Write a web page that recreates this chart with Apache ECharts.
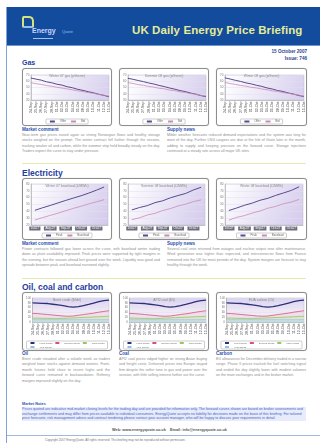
<!DOCTYPE html>
<html>
<head>
<meta charset="utf-8">
<script src="https://cdn.jsdelivr.net/npm/echarts@6/dist/echarts.min.js"></script>
<style>
  html, body { margin: 0; padding: 0; background: #fff; }
  body { width: 320px; height: 443px; position: relative; overflow: hidden; font-family: "Liberation Sans", Arial, sans-serif; }
  .abs { position: absolute; }
  .edge { left: 6px; top: 7px; width: 1px; height: 436px; background: #7fa3d9; }
  .band { left: 7px; top: 7px; width: 313px; height: 38px; background: #134b9d; border-bottom: 1px solid #6f95d0; }
  .title { left: 132px; top: 24px; font-size: 11.5px; font-weight: bold; color: #e4ec98; white-space: nowrap; letter-spacing: 0.1px; }
  .logo-icon { left: 22px; top: 16px; width: 8px; height: 8px; border: 2px solid #d7e27a; border-bottom-color: #8fc0e8; border-radius: 2px 5px 2px 2px; }
  .logo-e { left: 32px; top: 27px; font-size: 7px; color: #c9d4ff; font-weight: bold; }
  .logo-q { left: 62px; top: 28.5px; font-size: 4px; color: #9ec0ee; }
  .logo-ul { left: 33px; top: 38px; width: 20px; height: 1px; background: #9ec0ee; }
  .dateline { right: 13px; font-size: 4.6px; font-weight: bold; color: #1f3f8f; text-align: right; white-space: nowrap; }
  .h1 { font-weight: bold; color: #1e3ea0; white-space: nowrap; }
  .h2 { font-size: 4.6px; font-weight: bold; color: #2c50b0; white-space: nowrap; }
  .para { font-size: 3.6px; line-height: 5.4px; color: #8e8e8e; text-align: justify; }
  .panel { border: 1px solid #8d8d8d; border-radius: 3px; background: #fff; box-shadow: 0 0 1px #bbb; }
  .rule { height: 1px; background: #e6ebb4; }
  .foot { font-size: 3.6px; line-height: 4.6px; color: #3f5fc8; background: #e8ecfa; }
  .links { font-size: 3.8px; color: #555; font-weight: bold; white-space: nowrap; }
  .legal { font-size: 3px; color: #777; white-space: nowrap; }
</style>
</head>
<body>

<div class="abs edge"></div>
<div class="abs band"></div>
<div class="abs logo-icon"></div>
<div class="abs logo-e">Energy</div>
<div class="abs logo-q">Quote</div>
<div class="abs logo-ul"></div>
<div class="abs title">UK Daily Energy Price Briefing</div>

<div class="abs dateline" style="top:49px">15 October 2007</div>
<div class="abs dateline" style="top:55.5px">Issue: 746</div>

<div class="abs h1" style="left:22px;top:59px;font-size:7px">Gas</div>
<div class="abs panel" style="left:22px;top:68px;width:88px;height:56px"><div id="gas1" style="width:88px;height:56px"></div></div>
<div class="abs panel" style="left:119px;top:68px;width:88px;height:56px"><div id="gas2" style="width:88px;height:56px"></div></div>
<div class="abs panel" style="left:216px;top:68px;width:89px;height:56px"><div id="gas3" style="width:89px;height:56px"></div></div>

<div class="abs h2" style="left:22px;top:127px">Market comment</div>
<div class="abs para" style="left:22px;top:133px;width:138px">Near-term gas prices eased again as strong Norwegian flows and healthy storage stocks weighed on the prompt. The winter contract fell further through the session, tracking weaker oil and carbon, while the summer strip held broadly steady on the day. Traders expect the curve to stay under pressure.</div>
<div class="abs h2" style="left:167px;top:127px">Supply news</div>
<div class="abs para" style="left:167px;top:133px;width:139px">Milder weather forecasts reduced demand expectations and the system was long for most of the day. Further LNG cargoes are due at the Isle of Grain later in the month, adding to supply and keeping pressure on the forward curve. Storage injections continued at a steady rate across all major UK sites.</div>

<div class="abs rule" style="left:22px;top:163px;width:284px"></div>

<div class="abs h1" style="left:22px;top:168px;font-size:8.5px">Electricity</div>
<div class="abs panel" style="left:22px;top:178px;width:88px;height:60px"><div id="elec1" style="width:88px;height:60px"></div></div>
<div class="abs panel" style="left:119px;top:178px;width:88px;height:60px"><div id="elec2" style="width:88px;height:60px"></div></div>
<div class="abs panel" style="left:216px;top:178px;width:89px;height:60px"><div id="elec3" style="width:89px;height:60px"></div></div>

<div class="abs h2" style="left:22px;top:241px">Market comment</div>
<div class="abs para" style="left:22px;top:247px;width:138px">Power contracts followed gas lower across the curve, with baseload winter trading down as plant availability improved. Peak prices were supported by tight margins in the evening, but the season ahead lost ground over the week. Liquidity was good and spreads between peak and baseload narrowed slightly.</div>
<div class="abs h2" style="left:167px;top:241px">Supply news</div>
<div class="abs para" style="left:167px;top:247px;width:139px">Several coal units returned from outages and nuclear output rose after maintenance. Wind generation was higher than expected, and interconnector flows from France remained into the UK for most periods of the day. System margins are forecast to stay healthy through the week.</div>

<div class="abs rule" style="left:22px;top:278px;width:284px"></div>

<div class="abs h1" style="left:22px;top:282px;font-size:8.5px">Oil, coal and carbon</div>
<div class="abs panel" style="left:22px;top:292px;width:88px;height:57px"><div id="oil1" style="width:88px;height:57px"></div></div>
<div class="abs panel" style="left:119px;top:292px;width:88px;height:57px"><div id="oil2" style="width:88px;height:57px"></div></div>
<div class="abs panel" style="left:216px;top:292px;width:89px;height:57px"><div id="oil3" style="width:89px;height:57px"></div></div>

<div class="abs h2" style="left:22px;top:351px">Oil</div>
<div class="abs para" style="left:22px;top:357px;width:88px">Brent crude steadied after a volatile week as traders weighed lower stocks against demand worries. Front-month futures held close to recent highs and the forward curve remained in backwardation. Refinery margins improved slightly on the day.</div>
<div class="abs h2" style="left:119px;top:351px">Coal</div>
<div class="abs para" style="left:119px;top:357px;width:88px">API2 coal prices edged higher on strong Asian buying and freight costs. Delivered prices into Europe stayed firm despite the softer tone in gas and power over the session, with little selling interest further out the curve.</div>
<div class="abs h2" style="left:216px;top:351px">Carbon</div>
<div class="abs para" style="left:216px;top:357px;width:90px">EU allowances for December delivery traded in a narrow range. Phase II prices tracked the fuel switching signal and ended the day slightly lower with modest volumes on the main exchanges and in the broker market.</div>

<div class="abs h2" style="left:22px;top:402px;font-size:3.8px;color:#2c50b0">Market Notes</div>
<div class="abs foot" style="left:22px;top:407px;width:284px">Prices quoted are indicative mid-market closing levels for the trading day and are provided for information only. The forward curves shown are based on broker assessments and exchange settlements and may differ from prices available to individual consumers. EnergyQuote accepts no liability for decisions made on the basis of this briefing. For tailored price forecasts, risk management advice and contract tendering please contact your account manager, who will be happy to discuss your requirements in detail.</div>
<div class="abs links" style="left:112px;top:428px">Web: www.energyquote.co.uk &nbsp;&nbsp; Email: info@energyquote.co.uk</div>
<div class="abs" style="left:7px;top:435px;width:313px;height:1px;background:#9fb8e0"></div>
<div class="abs legal" style="left:45px;top:438px">Copyright 2007 EnergyQuote. All rights reserved. This briefing may not be reproduced without permission.</div>

<script>
// ---- Gas: contract price history (p/therm) ----
const gasDates = ['24-Sep','25-Sep','26-Sep','27-Sep','28-Sep','01-Oct','02-Oct','03-Oct','04-Oct','05-Oct','08-Oct','09-Oct','10-Oct','11-Oct','12-Oct','15-Oct'];
const gasTitles = ['Winter 07 gas (p/therm)', 'Summer 08 gas (p/therm)', 'Winter 08 gas (p/therm)'];
const gasOfferA = [65.2, 63.4, 61.8, 59.1, 57.6, 55.3, 53.8, 51.2, 49.6, 47.1, 45.4, 43.3, 41.6, 39.2, 37.5, 35.1];
const gasBidA   = [57.6, 56.1, 54.9, 53.2, 52.0, 50.4, 49.1, 47.7, 46.2, 44.8, 43.5, 41.9, 40.6, 39.2, 37.8, 36.2];
const gasOfferB = [64.8, 63.1, 61.2, 59.4, 57.2, 55.6, 53.3, 51.5, 49.2, 47.4, 45.1, 43.5, 41.2, 39.4, 37.1, 35.4];
const gasBidB   = [57.9, 56.4, 54.6, 53.5, 51.7, 50.6, 48.8, 47.9, 45.9, 45.0, 43.2, 42.1, 40.3, 39.4, 37.5, 36.4];
const gasOfferC = [65.5, 63.6, 61.5, 59.7, 57.4, 55.8, 53.5, 51.8, 49.3, 47.6, 45.2, 43.7, 41.3, 39.6, 37.2, 35.6];
const gasBidC   = [58.1, 56.3, 55.0, 53.3, 52.2, 50.3, 49.3, 47.6, 46.4, 44.7, 43.7, 41.8, 40.8, 39.1, 38.0, 36.3];
const gasSeriesNames = ['Offer', 'Bid'];

// ---- Electricity: baseload price history (£/MWh) ----
const elecDates = ['Jul-07','Aug-07','Aug-07 ','Sep-07','Sep-07 ','Sep-07  ','Oct-07','Oct-07 ','Oct-07  ','Oct-07   '];
const elecTicks = ['Jul-07','Aug-07','Sep-07','Oct-07','Oct-07'];
const elecTitles = ['Winter 07 baseload (£/MWh)', 'Summer 08 baseload (£/MWh)', 'Winter 08 baseload (£/MWh)'];
const elecPeakA = [41.5, 45.2, 48.6, 52.3, 55.9, 59.4, 62.8, 66.7, 70.9, 75.6];
const elecBaseA = [27.3, 30.8, 34.1, 37.2, 40.9, 44.3, 47.5, 50.8, 53.9, 57.1];
const elecPeakB = [42.1, 45.6, 48.3, 52.7, 55.4, 59.8, 63.1, 66.2, 71.3, 75.2];
const elecBaseB = [27.8, 30.5, 34.6, 37.0, 41.2, 44.0, 47.9, 50.5, 54.2, 56.8];
const elecPeakC = [41.2, 44.9, 48.9, 52.1, 56.2, 59.1, 63.3, 66.9, 70.6, 75.9];
const elecBaseC = [27.1, 31.2, 33.8, 37.5, 40.6, 44.6, 47.2, 51.1, 53.6, 57.4];
const elecSeriesNames = ['Peak', 'Baseload'];

// ---- Oil, coal and carbon (indexed) ----
const fuelDates = ['24-Sep','25-Sep','26-Sep','27-Sep','28-Sep','01-Oct','02-Oct','03-Oct','04-Oct','05-Oct','08-Oct','09-Oct','10-Oct','11-Oct','12-Oct','15-Oct'];
const fuelTitles = ['Brent crude ($/bbl)', 'API2 coal ($/t)', 'EUA carbon (€/t)'];
const fuelFront = [80, 79, 78, 77, 74, 71, 68, 64, 62, 64, 68, 73, 79, 85, 89, 91];
const fuelSecond = [36, 35, 33, 31, 29, 27, 25, 24, 25, 28, 31, 34, 37, 41, 44, 47];
const fuelThird = [16, 16, 15, 15, 14, 14, 15, 16, 17, 18, 19, 20, 21, 22, 23, 24];
const fuelBase = [10, 10, 10, 10, 10, 10, 10, 10, 10, 10, 10, 10, 10, 10, 10, 10];
const fuelSeriesNames = ['Front month', 'Second month', 'Third month', 'Year ahead'];

const FONT = 'Liberation Sans';

function lavender(topColor, bottomColor) {
  return new echarts.graphic.LinearGradient(0, 0, 1, 1, [
    { offset: 0, color: topColor },
    { offset: 1, color: bottomColor }
  ]);
}

function baseOption(title, grid, legendItems) {
  return {
    animation: false,
    textStyle: { fontFamily: FONT },
    title: {
      text: title, left: 'center', top: 0.5,
      textStyle: { fontSize: 3.4, color: '#8a8a8a', fontWeight: 'normal', fontFamily: FONT }
    },
    grid: Object.assign({ show: true, borderColor: '#b8b8c8', borderWidth: 0.5 }, grid),
    legend: {
      data: legendItems, bottom: 1, left: 'center',
      itemWidth: 5, itemHeight: 1.5, itemGap: 4,
      padding: [1, 3], borderColor: '#9a9a9a', borderWidth: 0.5, borderRadius: 1,
      textStyle: { fontSize: 2.8, color: '#666', fontFamily: FONT }
    }
  };
}

function valueAxis(min, max, interval) {
  return {
    type: 'value', min: min, max: max, interval: interval,
    axisLabel: { fontSize: 3, color: '#777', margin: 1.5, fontFamily: FONT },
    axisLine: { show: true, lineStyle: { color: '#999', width: 0.5 } },
    axisTick: { show: false },
    splitLine: { lineStyle: { color: '#e2dff0', width: 0.5 } }
  };
}

function gasChart(id, title, offer, bid) {
  const chart = echarts.init(document.getElementById(id), null, { renderer: 'canvas' });
  const opt = baseOption(title,
    { left: 6, right: 2, top: 6, bottom: 25, backgroundColor: lavender('#ffffff', '#d7cfee') },
    gasSeriesNames);
  opt.xAxis = {
    type: 'category', data: gasDates, boundaryGap: false,
    axisLabel: { rotate: 90, interval: 0, fontSize: 3.6, color: '#444', margin: 1.5, fontFamily: FONT },
    axisLine: { lineStyle: { color: '#999', width: 0.5 } },
    axisTick: { show: false }
  };
  opt.yAxis = valueAxis(30, 70, 10);
  opt.series = [
    { name: gasSeriesNames[0], type: 'line', data: offer, symbol: 'none', lineStyle: { color: '#5a4a8e', width: 1 }, itemStyle: { color: '#5a4a8e' } },
    { name: gasSeriesNames[1], type: 'line', data: bid, symbol: 'none', lineStyle: { color: '#c98bb8', width: 0.8 }, itemStyle: { color: '#c98bb8' } }
  ];
  chart.setOption(opt);
}

function elecChart(id, title, peak, base) {
  const chart = echarts.init(document.getElementById(id), null, { renderer: 'canvas' });
  const opt = baseOption(title,
    { left: 8, right: 3, top: 5, bottom: 14, backgroundColor: lavender('#ffffff', '#d3c9ec') },
    elecSeriesNames);
  opt.xAxis = {
    type: 'category', data: elecDates, boundaryGap: true,
    axisLabel: {
      interval: 1, fontSize: 3, color: '#fff', margin: 1.5, fontFamily: FONT,
      backgroundColor: '#6c6c7c', padding: [0.5, 1.5],
      formatter: function (v, i) { return elecTicks[Math.floor(i / 2)] || v.trim(); }
    },
    axisLine: { lineStyle: { color: '#999', width: 0.5 } },
    axisTick: { show: false }
  };
  opt.yAxis = valueAxis(20, 80, 10);
  opt.series = [
    { name: elecSeriesNames[0], type: 'line', data: peak, symbol: 'none', lineStyle: { color: '#5a4a8e', width: 1 }, itemStyle: { color: '#5a4a8e' } },
    { name: elecSeriesNames[1], type: 'line', data: base, symbol: 'none', lineStyle: { color: '#c98bb8', width: 0.8 }, itemStyle: { color: '#c98bb8' } }
  ];
  chart.setOption(opt);
}

function fuelChart(id, title) {
  const chart = echarts.init(document.getElementById(id), null, { renderer: 'canvas' });
  const opt = baseOption(title,
    { left: 6, right: 2, top: 5, bottom: 28,
      backgroundColor: new echarts.graphic.LinearGradient(0, 0, 0, 1, [
        { offset: 0, color: '#d9d2f0' }, { offset: 0.55, color: '#efe9f6' }, { offset: 1, color: '#f4f0f4' }
      ]) },
    fuelSeriesNames);
  opt.legend.itemWidth = 4;
  opt.legend.itemHeight = 2.5;
  opt.legend.itemGap = 2;
  opt.legend.textStyle.fontSize = 2.4;
  opt.xAxis = {
    type: 'category', data: fuelDates, boundaryGap: false,
    axisLabel: { rotate: 90, interval: 0, fontSize: 3.6, color: '#444', margin: 1.5, fontFamily: FONT },
    axisLine: { lineStyle: { color: '#999', width: 0.5 } },
    axisTick: { show: false }
  };
  opt.yAxis = valueAxis(0, 100, 20);
  opt.series = [
    { name: fuelSeriesNames[0], type: 'line', data: fuelFront, symbol: 'none', lineStyle: { color: '#2e2f78', width: 1.3 }, itemStyle: { color: '#2e2f78' } },
    { name: fuelSeriesNames[1], type: 'line', data: fuelSecond, symbol: 'none', lineStyle: { color: '#d0557a', width: 0.8 }, itemStyle: { color: '#d0557a' }, areaStyle: { color: 'rgba(236,190,205,0.35)' } },
    { name: fuelSeriesNames[2], type: 'line', data: fuelThird, symbol: 'none', lineStyle: { color: '#9cc65a', width: 0.8 }, itemStyle: { color: '#9cc65a' }, areaStyle: { color: 'rgba(206,230,180,0.6)' } },
    { name: fuelSeriesNames[3], type: 'line', data: fuelBase, symbol: 'none', lineStyle: { color: '#8fc3dc', width: 0.5 }, itemStyle: { color: '#8fc3dc' }, areaStyle: { color: '#b9dcea' } }
  ];
  chart.setOption(opt);
}

gasChart('gas1', gasTitles[0], gasOfferA, gasBidA);
gasChart('gas2', gasTitles[1], gasOfferB, gasBidB);
gasChart('gas3', gasTitles[2], gasOfferC, gasBidC);
elecChart('elec1', elecTitles[0], elecPeakA, elecBaseA);
elecChart('elec2', elecTitles[1], elecPeakB, elecBaseB);
elecChart('elec3', elecTitles[2], elecPeakC, elecBaseC);
fuelChart('oil1', fuelTitles[0]);
fuelChart('oil2', fuelTitles[1]);
fuelChart('oil3', fuelTitles[2]);
</script>
</body>
</html>
